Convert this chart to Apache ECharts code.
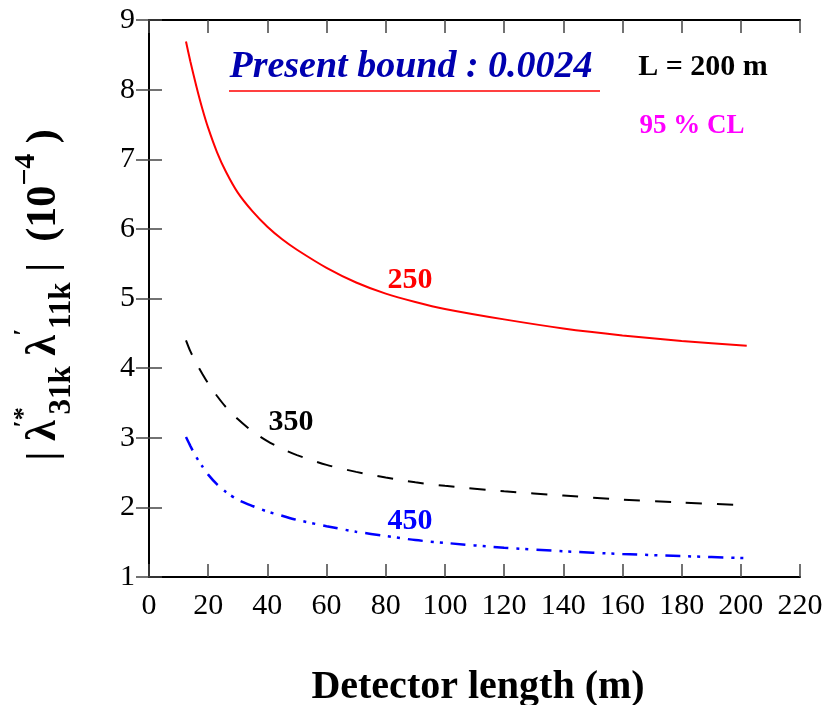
<!DOCTYPE html>
<html><head><meta charset="utf-8">
<script src="https://cdn.jsdelivr.net/npm/echarts@6/dist/echarts.min.js"></script>
<style>html,body{margin:0;padding:0;background:#fff}#c{width:830px;height:705px}</style>
</head><body><div id="c"></div>
<script>
// Detector length (m)
const xLength = [12.5, 14, 16, 18, 20, 23, 26, 30, 35, 40, 45, 50, 60, 70, 80, 90, 100, 120, 140, 160, 180, 202];
// |lambda'*_31k lambda'_11k| bound (10^-4), L = 200 m, 95% CL
const bound250 = [8.69, 8.40, 8.05, 7.73, 7.45, 7.10, 6.82, 6.52, 6.25, 6.03, 5.85, 5.70, 5.44, 5.23, 5.07, 4.95, 4.85, 4.70, 4.57, 4.47, 4.39, 4.32];
const bound350 = [4.40, 4.24, 4.07, 3.92, 3.78, 3.60, 3.44, 3.27, 3.09, 2.95, 2.84, 2.75, 2.61, 2.51, 2.43, 2.36, 2.31, 2.23, 2.17, 2.11, 2.07, 2.03];
const bound450 = [3.01, 2.88, 2.72, 2.59, 2.47, 2.33, 2.22, 2.11, 2.02, 1.94, 1.88, 1.82, 1.73, 1.65, 1.59, 1.53, 1.49, 1.42, 1.37, 1.33, 1.30, 1.27];
const seriesNames = ['250', '350', '450'];
const xTickLabels = ['0','20','40','60','80','100','120','140','160','180','200','220'];
const yTickLabels = ['1','2','3','4','5','6','7','8','9'];

const SERIF = "'Liberation Serif','Times New Roman',serif";
const chart = echarts.init(document.getElementById('c'), null, {renderer: 'canvas'});

function pairs(ys) { return xLength.map((x, i) => [x, ys[i]]); }

const axisCommon = {
  axisLine: {show: true, lineStyle: {color: '#000', width: 2}},
  axisTick: {show: true, inside: true, length: 13, lineStyle: {color: '#444', width: 1.5}},
  splitLine: {show: false}
};

chart.setOption({
  backgroundColor: '#fff',
  animation: false,
  grid: {left: 149, top: 20, right: 30, bottom: 128, containLabel: false},
  xAxis: [
    Object.assign({type: 'value', position: 'bottom', min: 0, max: 220, interval: 20,
      axisLabel: {show: true, margin: 14, color: '#000', fontSize: 30, fontFamily: SERIF,
        formatter: (v) => xTickLabels[Math.round(v / 20)]}}, axisCommon),
    Object.assign({type: 'value', position: 'top', min: 0, max: 220, interval: 20,
      axisLabel: {show: false}}, axisCommon)
  ],
  yAxis: [
    Object.assign({type: 'value', position: 'left', min: 1, max: 9, interval: 1,
      axisLabel: {show: true, margin: 14, color: '#000', fontSize: 30, fontFamily: SERIF,
        formatter: (v) => yTickLabels[Math.round(v - 1)]}}, axisCommon),
    Object.assign({type: 'value', position: 'right', min: 1, max: 9, interval: 1,
      axisLabel: {show: false}}, axisCommon)
  ],
  series: [
    {name: seriesNames[0], type: 'line', data: pairs(bound250), showSymbol: false, smooth: 0.25,
      lineStyle: {color: '#ff0000', width: 2, type: 'solid'}},
    {name: seriesNames[1], type: 'line', data: pairs(bound350), showSymbol: false, smooth: 0.25,
      lineStyle: {color: '#000000', width: 2, type: [16, 15]}},
    {name: seriesNames[2], type: 'line', data: pairs(bound450), showSymbol: false, smooth: 0.25,
      lineStyle: {color: '#0000ff', width: 2.5, type: [15, 8, 3, 6, 3, 8]}}
  ],
  graphic: [
    {type: 'text', x: 411, y: 67, style: {text: 'Present bound : 0.0024', fill: '#0000b0',
      font: "italic bold 38px " + SERIF, align: 'center', verticalAlign: 'middle'}},
    {type: 'line', shape: {x1: 229, y1: 91, x2: 600, y2: 91}, style: {stroke: '#ff0000', lineWidth: 1.5}},
    {type: 'text', x: 703, y: 67, style: {text: 'L = 200 m', fill: '#000',
      font: "bold 30px " + SERIF, align: 'center', verticalAlign: 'middle'}},
    {type: 'text', x: 692, y: 126, style: {text: '95 % CL', fill: '#ff00ff',
      font: "bold 27px " + SERIF, align: 'center', verticalAlign: 'middle'}},
    {type: 'text', x: 410, y: 280, style: {text: seriesNames[0], fill: '#ff0000',
      font: "bold 30px " + SERIF, align: 'center', verticalAlign: 'middle'}},
    {type: 'text', x: 291, y: 422, style: {text: seriesNames[1], fill: '#000',
      font: "bold 30px " + SERIF, align: 'center', verticalAlign: 'middle'}},
    {type: 'text', x: 410, y: 521, style: {text: seriesNames[2], fill: '#0000ff',
      font: "bold 30px " + SERIF, align: 'center', verticalAlign: 'middle'}},
    {type: 'text', x: 478, y: 688, style: {text: 'Detector length (m)', fill: '#000',
      font: "bold 40px " + SERIF, align: 'center', verticalAlign: 'middle'}},
    {type: 'text', x: 44, y: 295, rotation: Math.PI / 2,
      style: {
        text: '{b|| λ}{sup|′*}{sub|31k}{b| λ}{sup|′}{sub|11k}{b| |  (10}{exp|−4}{b| )}',
        fill: '#000', align: 'center', verticalAlign: 'middle',
        rich: {
          b: {fontSize: 42, fontWeight: 'bold', fontFamily: SERIF, lineHeight: 66, verticalAlign: 'middle', fill: '#000'},
          sub: {fontSize: 31, fontWeight: 'bold', fontFamily: SERIF, lineHeight: 36, verticalAlign: 'bottom', fill: '#000'},
          sup: {fontSize: 26, fontWeight: 'bold', fontFamily: SERIF, lineHeight: 32, verticalAlign: 'top', fill: '#000', width: 6},
          exp: {fontSize: 30, fontWeight: 'bold', fontFamily: SERIF, lineHeight: 34, verticalAlign: 'top', fill: '#000'}
        }
      }}
  ]
});
</script></body></html>
